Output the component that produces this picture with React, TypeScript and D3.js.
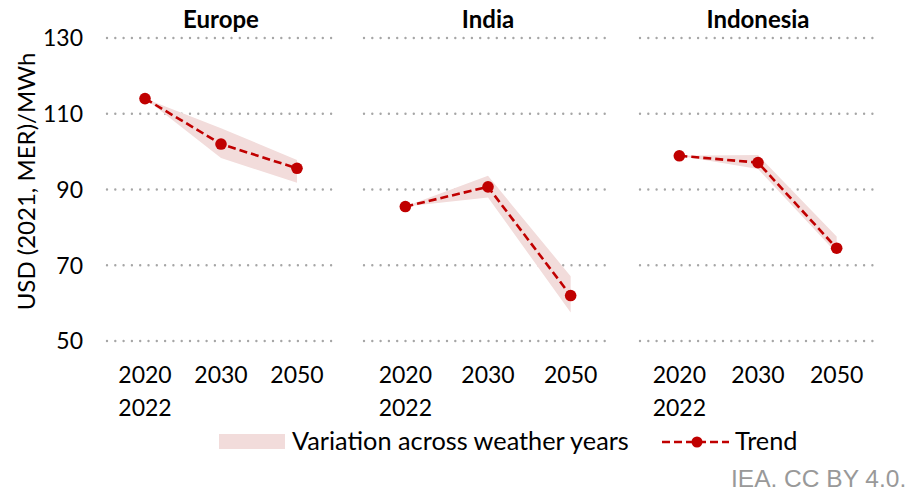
import React from "react";
import * as d3 from "d3";

const regions = ["Europe", "India", "Indonesia"];
const categories = ["2020|2022", "2030", "2050"];
const yTicks = [50, 70, 90, 110, 130];

const europeTrend = [114, 102, 95.6];
const europeLow = [114, 98.3, 91.8];
const europeHigh = [114, 106.2, 97.8];

const indiaTrend = [85.5, 90.7, 62];
const indiaLow = [85.5, 87.9, 57.5];
const indiaHigh = [85.5, 93.6, 67.1];

const indonesiaTrend = [98.9, 97.1, 74.5];
const indonesiaLow = [98.9, 95.4, 73.2];
const indonesiaHigh = [98.9, 99.1, 77.6];

const trends = [europeTrend, indiaTrend, indonesiaTrend];
const lows = [europeLow, indiaLow, indonesiaLow];
const highs = [europeHigh, indiaHigh, indonesiaHigh];

const legendLabels = ["Variation across weather years", "Trend"];
const yTitle = "USD (2021, MER)/MWh";
const sourceText = "IEA. CC BY 4.0.";

const W = 914;
const H = 491;
const FONT = "Lato, 'Noto Sans', sans-serif";
const RED = "#C00000";
const BAND = "#F2DCDB";
const GRID = "#A6A6A6";

const panelRanges: [number, number][] = [
  [107, 335],
  [364, 612],
  [640, 876],
];

const y = d3.scaleLinear().domain([50, 130]).range([341, 38]);

export default function App() {
  return (
    <svg
      width={W}
      height={H}
      style={{ position: "absolute", left: 0, top: 0, background: "#fff" }}
      fontFamily={FONT}
    >
      {/* y tick labels */}
      {yTicks.map((t) => (
        <text
          key={t}
          x={83}
          y={y(t)}
          dy="0.36em"
          textAnchor="end"
          fontSize={23}
          fill="#000"
        >
          {t}
        </text>
      ))}
      {/* y title */}
      <text
        transform={`translate(35,${(53 + 310) / 2}) rotate(-90)`}
        textAnchor="middle"
        fontSize={24}
        fill="#000"
      >
        {yTitle}
      </text>

      {regions.map((reg, i) => {
        const [x0, x1] = panelRanges[i];
        const x = d3.scaleBand<string>().domain(categories).range([x0, x1]);
        const cx = (c: string) => (x(c) as number) + x.bandwidth() / 2;
        const area = d3
          .area<number>()
          .x((_, k) => cx(categories[k]))
          .y0((_, k) => y(lows[i][k]))
          .y1((_, k) => y(highs[i][k]));
        const line = d3
          .line<number>()
          .x((_, k) => cx(categories[k]))
          .y((d) => y(d));
        return (
          <g key={reg}>
            {yTicks.map((t) => (
              <line
                key={t}
                x1={x0}
                x2={x1}
                y1={y(t)}
                y2={y(t)}
                stroke={GRID}
                strokeWidth={2.4}
                strokeLinecap="round"
                strokeDasharray="0 8.3"
              />
            ))}
            <text
              x={(x0 + x1) / 2}
              y={28}
              textAnchor="middle"
              fontSize={24}
              fontWeight="bold"
              fill="#000"
            >
              {reg}
            </text>
            <path d={area(trends[i]) || ""} fill={BAND} />
            <path
              d={line(trends[i]) || ""}
              fill="none"
              stroke={RED}
              strokeWidth={2.6}
              strokeDasharray="8 4"
            />
            {trends[i].map((v, k) => (
              <circle key={k} cx={cx(categories[k])} cy={y(v)} r={5.8} fill={RED} />
            ))}
            {categories.map((c) => (
              <text
                key={c}
                x={cx(c)}
                y={383}
                textAnchor="middle"
                fontSize={23}
                fill="#000"
              >
                {c.split("|").map((ln, j) => (
                  <tspan key={j} x={cx(c)} dy={j === 0 ? 0 : 33}>
                    {ln}
                  </tspan>
                ))}
              </text>
            ))}
          </g>
        );
      })}

      {/* legend */}
      <rect x={219} y={434} width={66} height={15} fill={BAND} />
      <text x={292} y={450} fontSize={25.3} fill="#000">
        {legendLabels[0]}
      </text>
      <line
        x1={662}
        x2={729}
        y1={442}
        y2={442}
        stroke={RED}
        strokeWidth={2.6}
        strokeDasharray="8 4"
      />
      <circle cx={697} cy={442} r={5.5} fill={RED} />
      <text x={735} y={450} fontSize={25.3} fill="#000">
        {legendLabels[1]}
      </text>

      <text
        x={731}
        y={487}
        fontSize={24.5}
        fill="#999999"
        fontFamily="'Liberation Sans', Arial, sans-serif"
      >
        {sourceText}
      </text>
    </svg>
  );
}
